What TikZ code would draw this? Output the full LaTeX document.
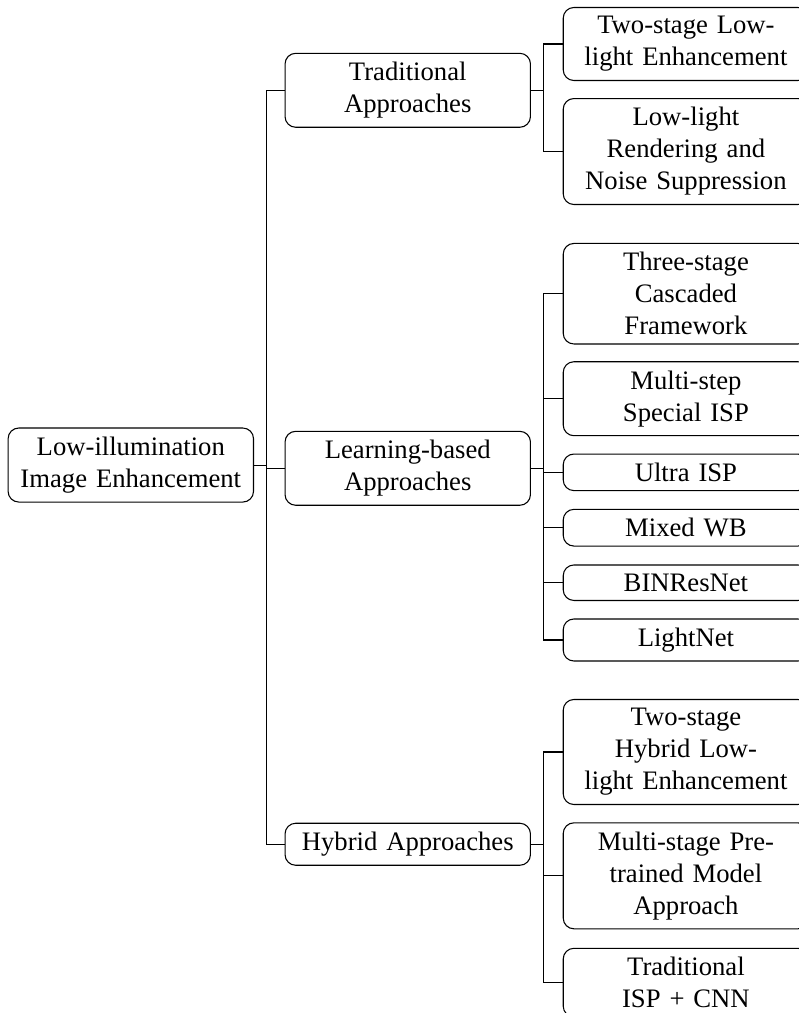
\documentclass[tikz,border=0pt]{standalone}
\usepackage{fontspec}
\setmainfont{Liberation Serif}

\begin{document}
\begin{tikzpicture}[
  % all boxes share the same fixed text width, so they line up in columns
  rootbox/.style={rectangle, draw, rounded corners=4pt, text width=3cm, align=center},
  catbox/.style={rootbox},
  leafbox/.style={rootbox, anchor=west}
]

% Page frame (the leaf column runs off the right and bottom edge)
\useasboundingbox (0,0) rectangle (10.518,-13.351);

% Root
\node[rootbox] (lie) at (1.724,-6.129) {Low-illumination\\Image Enhancement};

% Categories
\node[catbox] (trad) at (5.374,-1.190) {Traditional\\Approaches};
\node[catbox] (learn) at (5.374,-6.172) {Learning-based\\Approaches};
\node[catbox] (hyb) at (5.374,-11.127) {Hybrid Approaches};

% Fork columns
\coordinate (f0) at (3.515,0);
\coordinate (f1) at (7.163,0);

% Traditional methods
\node[leafbox] (tsl) at (7.416,-0.580) {Two-stage Low-\\light Enhancement};
\node[leafbox] (lrn) at (7.416,-1.997) {Low-light\\Rendering and\\Noise Suppression};

% Learning-based methods
\node[leafbox] (tcf) at (7.416,-3.871) {Three-stage\\Cascaded\\Framework};
\node[leafbox] (msi) at (7.416,-5.255) {Multi-step\\Special ISP};
\node[leafbox] (uisp) at (7.416,-6.225) {Ultra ISP};
\node[leafbox] (mwb) at (7.416,-6.955) {Mixed WB};
\node[leafbox] (bin) at (7.416,-7.680) {BINResNet};
\node[leafbox] (lnet) at (7.416,-8.435) {LightNet};

% Hybrid methods
\node[leafbox] (thl) at (7.416,-9.911) {Two-stage\\Hybrid Low-\\light Enhancement};
\node[leafbox] (mpm) at (7.416,-11.543) {Multi-stage Pre-\\trained Model\\Approach};
\node[leafbox] (tic) at (7.416,-12.950) {Traditional\\ISP + CNN};

% Root to categories (go right, then down/up to the child)
\draw (lie.east) -- (lie.east -| f0) |- (trad.west);
\draw (lie.east) -- (lie.east -| f0) |- (learn.west);
\draw (lie.east) -- (lie.east -| f0) |- (hyb.west);

% Categories to methods
\draw (trad.east) -- (trad.east -| f1) |- (tsl.west);
\draw (trad.east) -- (trad.east -| f1) |- (lrn.west);

\draw (learn.east) -- (learn.east -| f1) |- (tcf.west);
\draw (learn.east) -- (learn.east -| f1) |- (msi.west);
\draw (learn.east) -- (learn.east -| f1) |- (uisp.west);
\draw (learn.east) -- (learn.east -| f1) |- (mwb.west);
\draw (learn.east) -- (learn.east -| f1) |- (bin.west);
\draw (learn.east) -- (learn.east -| f1) |- (lnet.west);

\draw (hyb.east) -- (hyb.east -| f1) |- (thl.west);
\draw (hyb.east) -- (hyb.east -| f1) |- (mpm.west);
\draw (hyb.east) -- (hyb.east -| f1) |- (tic.west);

\end{tikzpicture}
\end{document}
